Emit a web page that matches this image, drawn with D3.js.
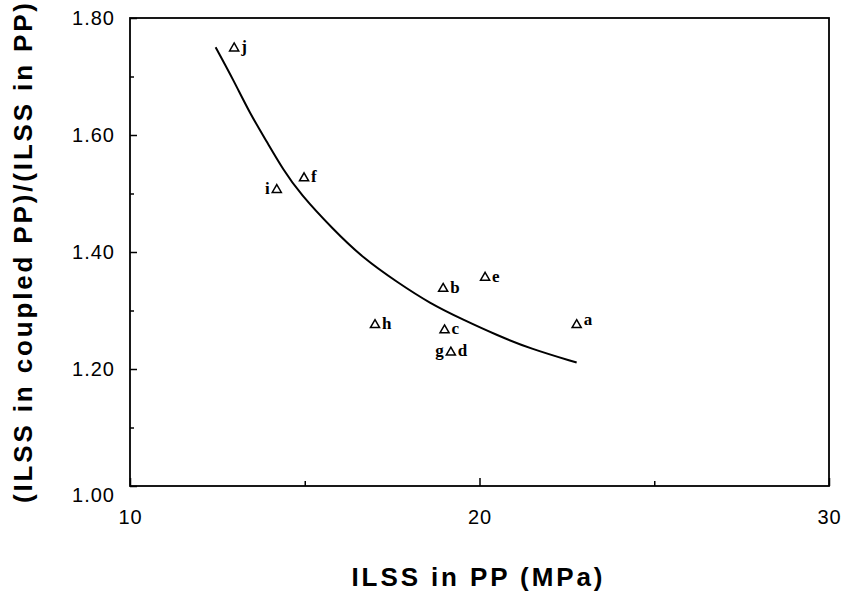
<!DOCTYPE html>
<html>
<head>
<meta charset="utf-8">
<script src="https://cdn.jsdelivr.net/npm/d3@7"></script>
<style>
  body { margin: 0; background: #fff; }
  svg { display: block; }
</style>
</head>
<body>
<div id="chart"></div>
<script>
// sample points (ILSS in PP, ratio)
const pointIds = ["a", "b", "c", "d", "e", "f", "h", "i", "j"];
const ilssPP = [22.78, 18.96, 19.0, 19.18, 20.16, 14.98, 17.01, 14.2, 12.98];
const ilssRatio = [1.277, 1.339, 1.268, 1.230, 1.358, 1.528, 1.277, 1.508, 1.750];
const rightLabels = ["a", "b", "c", "d", "e", "f", "h", "", "j"];
const leftLabels = ["", "", "", "g", "", "", "", "i", ""];

// fitted curve
const fitX = [12.45, 12.96, 13.43, 13.91, 14.39, 14.86, 15.82, 16.68, 17.63, 18.58, 19.54, 20.49, 21.44, 22.78];
const fitY = [1.750, 1.694, 1.637, 1.589, 1.540, 1.500, 1.438, 1.389, 1.349, 1.312, 1.284, 1.258, 1.235, 1.211];

const xMajor = [10, 20, 30];
const xMinor = [15, 25];
const yMajor = [1.0, 1.2, 1.4, 1.6, 1.8];
const yMinor = [1.1, 1.3, 1.5, 1.7];

let width = 844, height = 596;
let margin = { top: 18, right: 15, bottom: 110, left: 130 };
let plotW = width - margin.left - margin.right;
let plotH = height - margin.top - margin.bottom;

let svg = d3.select("#chart").append("svg")
    .attr("width", width)
    .attr("height", height);

let g = svg.append("g")
    .attr("transform", `translate(${margin.left},${margin.top})`);

let x_scale = d3.scaleLinear().domain([10, 30]).range([0, plotW]);
let y_scale = d3.scaleLinear().domain([1.0, 1.8]).range([plotH, 0]);

let tickFont = "'Liberation Sans', Arial, sans-serif";

// y axis: inward ticks
let yAxis = g.append("g")
    .call(d3.axisLeft(y_scale).tickValues(yMajor).tickSizeInner(-7).tickSizeOuter(0)
        .tickPadding(15).tickFormat(d3.format(".2f")));
g.append("g")
    .call(d3.axisLeft(y_scale).tickValues(yMinor).tickSizeInner(-4).tickSizeOuter(0).tickFormat(""));

// x axis: inward ticks
let xAxis = g.append("g")
    .attr("transform", `translate(0,${plotH})`)
    .call(d3.axisBottom(x_scale).tickValues(xMajor).tickSizeInner(-8).tickSizeOuter(0)
        .tickPadding(24).tickFormat(d3.format("d")));
g.append("g")
    .attr("transform", `translate(0,${plotH})`)
    .call(d3.axisBottom(x_scale).tickValues(xMinor).tickSizeInner(-5).tickSizeOuter(0).tickFormat(""));

g.selectAll(".domain").remove();
g.selectAll(".tick line").attr("stroke", "#000").attr("stroke-width", 1.5);
g.selectAll(".tick text")
    .attr("fill", "#000")
    .style("font-family", tickFont)
    .style("font-size", "20px")
    .style("letter-spacing", "1px");
// bottom label of the y axis sits a little lower in the original
yAxis.selectAll(".tick text").filter(d => d === 1.0).attr("dy", "0.75em");

// frame
g.append("rect")
    .attr("x", 0).attr("y", 0)
    .attr("width", plotW).attr("height", plotH)
    .attr("fill", "none")
    .attr("stroke", "#000")
    .attr("stroke-width", 1.8);

// fitted curve
let line = d3.line()
    .x(d => x_scale(d[0]))
    .y(d => y_scale(d[1]))
    .curve(d3.curveBasis);
g.append("path")
    .datum(fitX.map((d, i) => [d, fitY[i]]))
    .attr("d", line)
    .attr("fill", "none")
    .attr("stroke", "#000")
    .attr("stroke-width", 2);

// triangles with letter labels
let tri = d3.symbol().type(d3.symbolTriangle).size(36);
let pts = g.selectAll(".pt")
    .data(pointIds.map((d, i) => ({ id: d, x: ilssPP[i], y: ilssRatio[i], r: rightLabels[i], l: leftLabels[i] })))
    .enter().append("g")
    .attr("class", "pt")
    .attr("transform", d => `translate(${x_scale(d.x)},${y_scale(d.y)})`);

pts.append("path")
    .attr("d", tri)
    .attr("transform", "translate(0,1)")
    .attr("fill", "none")
    .attr("stroke", "#000")
    .attr("stroke-width", 1.5);

let labelFont = "'Liberation Serif', 'Times New Roman', serif";
pts.append("text")
    .attr("x", 7)
    .attr("y", d => d.r === "a" ? 1 : 5)
    .style("font-family", labelFont)
    .style("font-weight", "bold")
    .style("font-size", "17px")
    .text(d => d.r);
pts.append("text")
    .attr("x", -7)
    .attr("y", 5)
    .attr("text-anchor", "end")
    .style("font-family", labelFont)
    .style("font-weight", "bold")
    .style("font-size", "17px")
    .text(d => d.l);

// axis titles
svg.append("text")
    .attr("transform", "translate(32,253) rotate(-90)")
    .attr("text-anchor", "middle")
    .attr("textLength", 500)
    .attr("lengthAdjust", "spacing")
    .style("font-family", tickFont)
    .style("font-weight", "bold")
    .style("font-size", "26px")
    .text("(ILSS in coupled PP)/(ILSS in PP)");

svg.append("text")
    .attr("x", 477)
    .attr("y", 586)
    .attr("text-anchor", "middle")
    .attr("textLength", 251)
    .attr("lengthAdjust", "spacing")
    .style("font-family", tickFont)
    .style("font-weight", "bold")
    .style("font-size", "26px")
    .text("ILSS in PP (MPa)");
</script>
</body>
</html>
